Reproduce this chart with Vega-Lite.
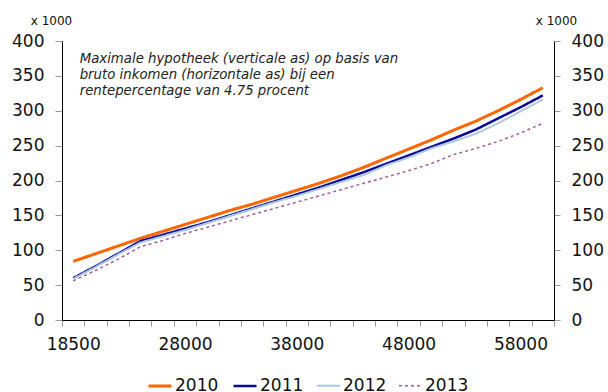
{
  "$schema": "https://vega.github.io/schema/vega-lite/v6.json",
  "width": 492,
  "height": 279,
  "autosize": {"type": "none"},
  "padding": {"left": 62, "top": 41, "right": 54, "bottom": 72},
  "background": "white",
  "config": {
    "view": {"stroke": null},
    "font": "DejaVu Sans",
    "axis": {"grid": false, "domainColor": "black", "tickColor": "#999999", "labelColor": "#111111", "labelFont": "DejaVu Sans", "labelFontSize": 17, "titleFont": "DejaVu Sans", "titleFontWeight": "normal"}
  },
  "data": {
    "values": [
      {"inkomen": 18500, "hypotheek": 84, "jaar": "2010"},
      {"inkomen": 20000, "hypotheek": 95, "jaar": "2010"},
      {"inkomen": 22000, "hypotheek": 106, "jaar": "2010"},
      {"inkomen": 24000, "hypotheek": 117, "jaar": "2010"},
      {"inkomen": 26000, "hypotheek": 127, "jaar": "2010"},
      {"inkomen": 28000, "hypotheek": 137, "jaar": "2010"},
      {"inkomen": 30000, "hypotheek": 147, "jaar": "2010"},
      {"inkomen": 32000, "hypotheek": 157, "jaar": "2010"},
      {"inkomen": 34000, "hypotheek": 166, "jaar": "2010"},
      {"inkomen": 36000, "hypotheek": 176, "jaar": "2010"},
      {"inkomen": 38000, "hypotheek": 186, "jaar": "2010"},
      {"inkomen": 40000, "hypotheek": 196, "jaar": "2010"},
      {"inkomen": 42000, "hypotheek": 207, "jaar": "2010"},
      {"inkomen": 44000, "hypotheek": 219, "jaar": "2010"},
      {"inkomen": 46000, "hypotheek": 232, "jaar": "2010"},
      {"inkomen": 48000, "hypotheek": 245, "jaar": "2010"},
      {"inkomen": 50000, "hypotheek": 258, "jaar": "2010"},
      {"inkomen": 52000, "hypotheek": 272, "jaar": "2010"},
      {"inkomen": 54000, "hypotheek": 285, "jaar": "2010"},
      {"inkomen": 56000, "hypotheek": 300, "jaar": "2010"},
      {"inkomen": 58000, "hypotheek": 316, "jaar": "2010"},
      {"inkomen": 60000, "hypotheek": 333, "jaar": "2010"},
      {"inkomen": 18500, "hypotheek": 60, "jaar": "2011"},
      {"inkomen": 20000, "hypotheek": 77, "jaar": "2011"},
      {"inkomen": 22000, "hypotheek": 95, "jaar": "2011"},
      {"inkomen": 24000, "hypotheek": 113, "jaar": "2011"},
      {"inkomen": 26000, "hypotheek": 122, "jaar": "2011"},
      {"inkomen": 28000, "hypotheek": 131, "jaar": "2011"},
      {"inkomen": 30000, "hypotheek": 140, "jaar": "2011"},
      {"inkomen": 32000, "hypotheek": 150, "jaar": "2011"},
      {"inkomen": 34000, "hypotheek": 160, "jaar": "2011"},
      {"inkomen": 36000, "hypotheek": 170, "jaar": "2011"},
      {"inkomen": 38000, "hypotheek": 180, "jaar": "2011"},
      {"inkomen": 40000, "hypotheek": 190, "jaar": "2011"},
      {"inkomen": 42000, "hypotheek": 201, "jaar": "2011"},
      {"inkomen": 44000, "hypotheek": 212, "jaar": "2011"},
      {"inkomen": 46000, "hypotheek": 224, "jaar": "2011"},
      {"inkomen": 48000, "hypotheek": 236, "jaar": "2011"},
      {"inkomen": 50000, "hypotheek": 248, "jaar": "2011"},
      {"inkomen": 52000, "hypotheek": 260, "jaar": "2011"},
      {"inkomen": 54000, "hypotheek": 273, "jaar": "2011"},
      {"inkomen": 56000, "hypotheek": 289, "jaar": "2011"},
      {"inkomen": 58000, "hypotheek": 305, "jaar": "2011"},
      {"inkomen": 60000, "hypotheek": 322, "jaar": "2011"},
      {"inkomen": 18500, "hypotheek": 59, "jaar": "2012"},
      {"inkomen": 20000, "hypotheek": 76, "jaar": "2012"},
      {"inkomen": 22000, "hypotheek": 94, "jaar": "2012"},
      {"inkomen": 24000, "hypotheek": 111, "jaar": "2012"},
      {"inkomen": 26000, "hypotheek": 120, "jaar": "2012"},
      {"inkomen": 28000, "hypotheek": 129, "jaar": "2012"},
      {"inkomen": 30000, "hypotheek": 139, "jaar": "2012"},
      {"inkomen": 32000, "hypotheek": 149, "jaar": "2012"},
      {"inkomen": 34000, "hypotheek": 159, "jaar": "2012"},
      {"inkomen": 36000, "hypotheek": 169, "jaar": "2012"},
      {"inkomen": 38000, "hypotheek": 178, "jaar": "2012"},
      {"inkomen": 40000, "hypotheek": 188, "jaar": "2012"},
      {"inkomen": 42000, "hypotheek": 198, "jaar": "2012"},
      {"inkomen": 44000, "hypotheek": 208, "jaar": "2012"},
      {"inkomen": 46000, "hypotheek": 222, "jaar": "2012"},
      {"inkomen": 48000, "hypotheek": 233, "jaar": "2012"},
      {"inkomen": 50000, "hypotheek": 246, "jaar": "2012"},
      {"inkomen": 52000, "hypotheek": 256, "jaar": "2012"},
      {"inkomen": 54000, "hypotheek": 267, "jaar": "2012"},
      {"inkomen": 56000, "hypotheek": 282, "jaar": "2012"},
      {"inkomen": 58000, "hypotheek": 299, "jaar": "2012"},
      {"inkomen": 60000, "hypotheek": 316, "jaar": "2012"},
      {"inkomen": 18500, "hypotheek": 56, "jaar": "2013"},
      {"inkomen": 20000, "hypotheek": 71, "jaar": "2013"},
      {"inkomen": 22000, "hypotheek": 87, "jaar": "2013"},
      {"inkomen": 24000, "hypotheek": 105, "jaar": "2013"},
      {"inkomen": 26000, "hypotheek": 114, "jaar": "2013"},
      {"inkomen": 28000, "hypotheek": 124, "jaar": "2013"},
      {"inkomen": 30000, "hypotheek": 133, "jaar": "2013"},
      {"inkomen": 32000, "hypotheek": 142, "jaar": "2013"},
      {"inkomen": 34000, "hypotheek": 151, "jaar": "2013"},
      {"inkomen": 36000, "hypotheek": 160, "jaar": "2013"},
      {"inkomen": 38000, "hypotheek": 169, "jaar": "2013"},
      {"inkomen": 40000, "hypotheek": 178, "jaar": "2013"},
      {"inkomen": 42000, "hypotheek": 187, "jaar": "2013"},
      {"inkomen": 44000, "hypotheek": 196, "jaar": "2013"},
      {"inkomen": 46000, "hypotheek": 205, "jaar": "2013"},
      {"inkomen": 48000, "hypotheek": 214, "jaar": "2013"},
      {"inkomen": 50000, "hypotheek": 224, "jaar": "2013"},
      {"inkomen": 52000, "hypotheek": 237, "jaar": "2013"},
      {"inkomen": 54000, "hypotheek": 246, "jaar": "2013"},
      {"inkomen": 56000, "hypotheek": 256, "jaar": "2013"},
      {"inkomen": 58000, "hypotheek": 268, "jaar": "2013"},
      {"inkomen": 60000, "hypotheek": 282, "jaar": "2013"}
    ]
  },
  "layer": [
    {
      "mark": {"type": "line", "strokeCap": "butt"},
      "encoding": {
        "x": {
          "field": "inkomen", "type": "ordinal", "bandPosition": 0.5,
          "scale": {"type": "band", "paddingInner": 0, "paddingOuter": 0},
          "axis": {"title": null, "labelAngle": 0, "tickBand": "extent", "tickSize": 6, "labelPadding": 10,
            "labelExpr": "indexof([18500,28000,38000,48000,58000], datum.value) >= 0 ? datum.value : ''"}
        },
        "y": {
          "field": "hypotheek", "type": "quantitative",
          "scale": {"domain": [0, 400], "nice": false},
          "axis": {"orient": "left", "values": [0,50,100,150,200,250,300,350,400], "tickSize": 7, "labelPadding": 11,
            "title": "x 1000", "titleAngle": 0, "titleFontSize": 12, "titleX": -11, "titleY": -17, "titleAlign": "center", "titleBaseline": "alphabetic", "titleColor": "#111111"}
        },
        "color": {
          "field": "jaar", "type": "nominal",
          "scale": {"domain": ["2010","2011","2012","2013"], "range": ["#FF6600","#0A0A99","#B0C8E2","#A0609A"]},
          "legend": {"title": null, "orient": "none", "legendX": 85, "legendY": 332, "direction": "horizontal", "symbolType": "stroke", "symbolSize": 529,
            "labelFontSize": 17, "labelColor": "#111111", "labelOffset": 2, "columnPadding": 9, "symbolStrokeWidth": 2}
        },
        "strokeWidth": {
          "field": "jaar", "type": "nominal",
          "scale": {"domain": ["2010","2011","2012","2013"], "range": [3, 1.5, 1.5, 3]},
          "legend": null
        },
        "strokeDash": {
          "field": "jaar", "type": "nominal",
          "scale": {"domain": ["2010","2011","2012","2013"], "range": [[1,0],[1,0],[1,0],[3,3]]},
          "legend": {"title": null, "orient": "none", "legendX": 85, "legendY": 332, "direction": "horizontal", "symbolType": "stroke", "symbolSize": 529,
            "labelFontSize": 17, "labelColor": "#111111", "labelOffset": 2, "columnPadding": 9, "symbolStrokeWidth": 2}
        }
      }
    },
    {
      "data": {"values": [{}]},
      "mark": {"type": "text", "align": "left", "baseline": "top", "dx": 6.5, "fontStyle": "italic", "fontSize": 13.3, "lineHeight": 16, "color": "#222222",
        "text": ["Maximale hypotheek (verticale as) op basis van", "bruto inkomen (horizontale as) bij een", "rentepercentage van 4.75 procent"]},
      "encoding": {
        "x": {"datum": 18500, "type": "ordinal", "bandPosition": 0.5},
        "y": {
          "datum": 384, "type": "quantitative",
          "axis": {"orient": "right", "values": [0,50,100,150,200,250,300,350,400], "tickSize": 6, "labelPadding": 11,
            "title": "x 1000", "titleAngle": 0, "titleFontSize": 12, "titleX": 2, "titleY": -17, "titleAlign": "center", "titleBaseline": "alphabetic", "titleColor": "#111111"}
        }
      }
    }
  ],
  "resolve": {"scale": {"y": "shared"}, "axis": {"y": "independent"}}
}
